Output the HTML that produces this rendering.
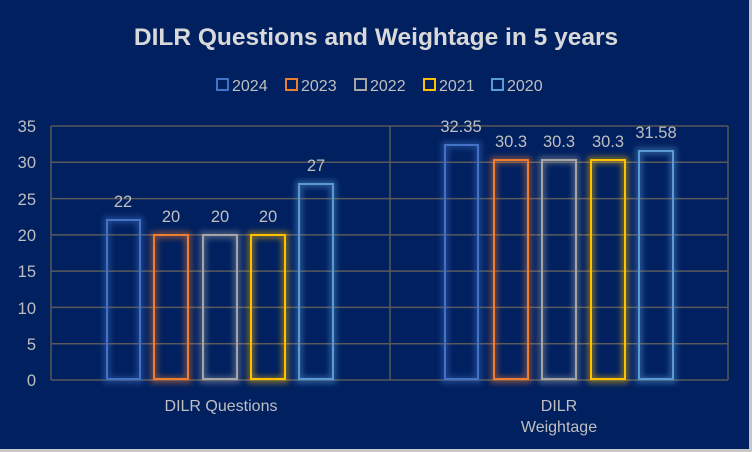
<!DOCTYPE html>
<html><head><meta charset="utf-8"><style>
html,body{margin:0;padding:0;background:#002060;}
svg{display:block;font-family:"Liberation Sans",sans-serif;}
</style></head><body>
<svg width="752" height="452" viewBox="0 0 752 452">
<defs><filter id="g" x="-50%" y="-50%" width="200%" height="200%"><feGaussianBlur stdDeviation="3"/></filter></defs>
<rect width="752" height="452" fill="#002060"/>
<rect x="749" y="0" width="3" height="452" fill="#c8c8c8"/>
<rect x="0" y="449" width="752" height="3" fill="#c8c8c8"/>
<text x="376" y="45" text-anchor="middle" font-size="24.5" font-weight="bold" fill="#d9d9d9">DILR Questions and Weightage in 5 years</text>
<g font-size="16" fill="#bfbfbf">
<rect x="217" y="79" width="11" height="11" fill="none" stroke="#4472c4" stroke-width="2"/><text x="232" y="91">2024</text>
<rect x="286" y="79" width="11" height="11" fill="none" stroke="#ed7d31" stroke-width="2"/><text x="301" y="91">2023</text>
<rect x="355" y="79" width="11" height="11" fill="none" stroke="#a5a5a5" stroke-width="2"/><text x="370" y="91">2022</text>
<rect x="424" y="79" width="11" height="11" fill="none" stroke="#ffc000" stroke-width="2"/><text x="439" y="91">2021</text>
<rect x="492" y="79" width="11" height="11" fill="none" stroke="#5b9bd5" stroke-width="2"/><text x="507" y="91">2020</text>
</g>
<g stroke="#595959" stroke-width="1.5">
<line x1="51" y1="126" x2="728" y2="126"/><line x1="51" y1="162.3" x2="728" y2="162.3"/>
<line x1="51" y1="198.6" x2="728" y2="198.6"/><line x1="51" y1="234.9" x2="728" y2="234.9"/>
<line x1="51" y1="271.1" x2="728" y2="271.1"/><line x1="51" y1="307.4" x2="728" y2="307.4"/>
<line x1="51" y1="343.7" x2="728" y2="343.7"/><line x1="51" y1="380" x2="728" y2="380"/>
<line x1="51" y1="126" x2="51" y2="380"/><line x1="390" y1="126" x2="390" y2="380"/><line x1="728" y1="126" x2="728" y2="380"/>
</g>
<g font-size="16.5" fill="#bfbfbf" text-anchor="end">
<text x="36" y="132">35</text><text x="36" y="168">30</text><text x="36" y="205">25</text><text x="36" y="241">20</text>
<text x="36" y="277">15</text><text x="36" y="314">10</text><text x="36" y="350">5</text><text x="36" y="386">0</text>
</g>
<g fill="none" stroke-width="7" opacity="0.45" filter="url(#g)">
<rect x="107" y="220" width="33" height="160" stroke="#4472c4"/>
<rect x="154" y="235" width="34" height="145" stroke="#ed7d31"/>
<rect x="203" y="235" width="34" height="145" stroke="#a5a5a5"/>
<rect x="251" y="235" width="34" height="145" stroke="#ffc000"/>
<rect x="299" y="184" width="34" height="196" stroke="#5b9bd5"/>
<rect x="445" y="145" width="33" height="235" stroke="#4472c4"/>
<rect x="494" y="160" width="34" height="220" stroke="#ed7d31"/>
<rect x="542" y="160" width="34" height="220" stroke="#a5a5a5"/>
<rect x="591" y="160" width="34" height="220" stroke="#ffc000"/>
<rect x="639" y="151" width="34" height="229" stroke="#5b9bd5"/>
</g>
<g fill="none" stroke-width="2">
<rect x="107" y="220" width="33" height="159" stroke="#4472c4"/>
<rect x="154" y="235" width="34" height="144" stroke="#ed7d31"/>
<rect x="203" y="235" width="34" height="144" stroke="#a5a5a5"/>
<rect x="251" y="235" width="34" height="144" stroke="#ffc000"/>
<rect x="299" y="184" width="34" height="195" stroke="#5b9bd5"/>
<rect x="445" y="145" width="33" height="234" stroke="#4472c4"/>
<rect x="494" y="160" width="34" height="219" stroke="#ed7d31"/>
<rect x="542" y="160" width="34" height="219" stroke="#a5a5a5"/>
<rect x="591" y="160" width="34" height="219" stroke="#ffc000"/>
<rect x="639" y="151" width="34" height="228" stroke="#5b9bd5"/>
</g>
<g font-size="16.5" fill="#bfbfbf" text-anchor="middle">
<text x="123" y="207">22</text><text x="171" y="222">20</text><text x="220" y="222">20</text><text x="268" y="222">20</text><text x="316" y="171">27</text>
<text x="461" y="132">32.35</text><text x="511" y="147">30.3</text><text x="559" y="147">30.3</text><text x="608" y="147">30.3</text><text x="656" y="138">31.58</text>
<text x="221" y="411" font-size="16">DILR Questions</text>
<text x="559" y="411" font-size="16">DILR</text>
<text x="559" y="432" font-size="16">Weightage</text>
</g>
</svg>
</body></html>
